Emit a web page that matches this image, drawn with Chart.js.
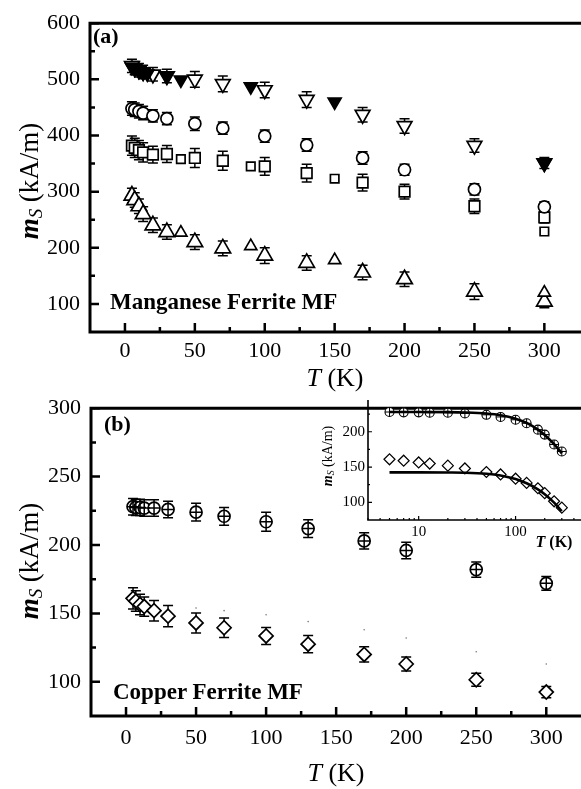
<!DOCTYPE html>
<html>
<head>
<meta charset="utf-8">
<script src="https://cdn.jsdelivr.net/npm/chart.js@4.4.1/dist/chart.umd.min.js"></script>
<style>
  html, body { margin: 0; padding: 0; background: #fff; overflow: hidden; }
  #page { position: relative; width: 581px; height: 789px; overflow: hidden; background: #fff;
          font-family: "Liberation Serif", "Times New Roman", serif; color: #000; }
  canvas { position: absolute; }
  .lbl { position: absolute; white-space: nowrap; line-height: 1; }
  .bold { font-weight: bold; }
  .ytitle { transform: translate(-50%, -50%) rotate(-90deg); }
  .xtitle { transform: translate(-50%, -50%); }
  sub { font-size: 0.7em; vertical-align: -0.25em; line-height: 0; font-style: italic; }
</style>
</head>
<body>
<div id="page">
  <canvas id="chartA" width="590" height="395" style="left:0;top:0"></canvas>
  <canvas id="chartB" width="590" height="404" style="left:0;top:385px"></canvas>
  <canvas id="chartInset" width="300" height="170" style="left:290px;top:385px"></canvas>

  <div class="lbl bold" style="left:93px;top:25px;font-size:22px">(a)</div>
  <div class="lbl bold" style="left:110px;top:290px;font-size:23px">Manganese Ferrite MF</div>
  <div class="lbl ytitle" style="left:29px;top:181px;font-size:27px"><b><i>m</i></b><sub>S</sub> (kA/m)</div>
  <div class="lbl xtitle" style="left:335px;top:378px;font-size:26px"><i>T</i> (K)</div>

  <div class="lbl bold" style="left:104px;top:413px;font-size:22px">(b)</div>
  <div class="lbl bold" style="left:113px;top:680px;font-size:23px">Copper Ferrite MF</div>
  <div class="lbl ytitle" style="left:29px;top:561px;font-size:27px"><b><i>m</i></b><sub>S</sub> (kA/m)</div>
  <div class="lbl xtitle" style="left:336px;top:773px;font-size:26px"><i>T</i> (K)</div>

  <div class="lbl ytitle" style="left:328px;top:456px;font-size:14px"><b><i>m</i></b><sub>S</sub> (kA/m)</div>
  <div class="lbl xtitle bold" style="left:554px;top:542px;font-size:16px"><i>T</i> (K)</div>
</div>
<script>
// ---- panel (a): manganese ferrite ----
const tempA = [5, 7, 10, 13, 20, 30, 50, 70, 100, 130, 170, 200, 250, 300];
const mnTriDownOpen = [524, 520, 516, 513, 509, 506, 500, 492, 481, 464, 437, 417, 382, 351];
const mnTriDownOpenErr = [12, 12, 12, 12, 12, 12, 14, 14, 14, 14, 13, 13, 12, 10];
const mnCircle = [448, 446, 443, 440, 435, 430, 421, 413, 399, 383, 360, 339, 304, 273];
const mnCircleErr = [12, 12, 12, 12, 11, 11, 12, 11, 11, 11, 11, 10, 10, 9];
const mnSquare = [382, 378, 374, 370, 366, 367, 360, 355, 345, 333, 316, 300, 274, 254];
const mnSquareErr = [17, 17, 17, 17, 15, 15, 17, 17, 16, 16, 15, 13, 13, 10];
const mnTriUp = [293, 285, 274, 260, 240, 228, 210, 199, 186, 173, 156, 144, 122, 104];
const mnTriUpErr = [13, 13, 13, 13, 13, 13, 13, 13, 14, 13, 13, 13, 14, 11];

// second set (no error bars)
const tempFilled = [5, 7, 10, 13, 16, 30, 40, 90, 150, 300];
const mnTriDownFilled = [522, 519, 515, 512, 510, 506, 499, 487, 460, 350];
const tempExtra = [40, 90, 150, 300];
const mnSquareSmall = [358, 345, 323, 229];
const mnTriUpSmall = [227, 203, 178, 120];

// ---- panel (b): copper ferrite ----
const tempB = [5, 7, 10, 13, 20, 30, 50, 70, 100, 130, 170, 200, 250, 300];
const cuCircle = [228, 227.5, 227.5, 227, 227, 226, 224, 221, 217, 212, 203, 196, 182, 172];
const cuCircleErr = [6, 6, 6, 6, 6, 6, 6.5, 6.5, 7, 6.5, 6, 6, 5.5, 5];
const cuDiamond = [161, 159, 156.5, 155, 152, 148, 143, 139.5, 133.5, 127.5, 120, 113, 101.5, 92.5];
const cuDiamondErr = [7.7, 7.5, 7.5, 7, 7.5, 7.7, 7.3, 7.1, 6.2, 6.3, 5.6, 5.1, 4.7, 4.1];
const tempDots = [50, 70, 100, 130, 170, 200, 250, 300];
const cuDots = [154, 152, 149, 144, 138, 132, 122, 113];

// ---- inset: fits on log T ----
const tempFit = [5, 10, 20, 30, 50, 70, 100, 130, 170, 200, 250, 300];
const fitCircle = [228, 228, 227.8, 227.3, 225.8, 223.5, 218.5, 212.5, 203, 195.5, 182.5, 169.5];
const fitDiamond = [142.5, 142.5, 142.3, 142, 140.5, 138, 133, 127, 118.5, 111.5, 99.5, 87.5];

// ---- axes ----
const xTicks = [0, 50, 100, 150, 200, 250, 300];
const xMinor = [25, 75, 125, 175, 225, 275];
const yTicksA = [100, 200, 300, 400, 500, 600];
const yMinorA = [150, 250, 350, 450, 550];
const yTicksB = [100, 150, 200, 250, 300];
const yMinorB = [125, 175, 225, 275];
const insetXTicks = [10, 100];
const insetXMinor = [3, 4, 5, 6, 7, 8, 9, 20, 30, 40, 50, 60, 70, 80, 90, 200, 300, 400];
const insetYTicks = [100, 150, 200];
const insetYMinor = [125, 175, 225];

Chart.defaults.font.family = '"Liberation Serif", "Times New Roman", serif';
Chart.defaults.color = '#000';
Chart.defaults.animation = false;
Chart.defaults.plugins.legend.display = false;
Chart.defaults.plugins.tooltip.enabled = false;

const pts = (xs, ys) => xs.map((x, i) => ({ x, y: ys[i] }));

function markers(xs, ys, style, radius, extra) {
  return Object.assign({
    data: pts(xs, ys),
    pointStyle: style,
    pointRadius: radius,
    pointBackgroundColor: '#fff',
    pointBorderColor: '#000',
    pointBorderWidth: 1.7,
    showLine: false,
  }, extra || {});
}

// vertical error bars with caps, drawn under the markers
const errorBars = {
  id: 'errorBars',
  beforeDatasetsDraw(chart) {
    const { ctx, scales: { x, y } } = chart;
    ctx.save();
    ctx.strokeStyle = '#000';
    ctx.lineWidth = 1.5;
    chart.data.datasets.forEach(ds => {
      if (!ds.errors) return;
      ds.data.forEach((p, j) => {
        const e = ds.errors[j];
        const px = x.getPixelForValue(p.x);
        const top = y.getPixelForValue(p.y + e);
        const bot = y.getPixelForValue(p.y - e);
        ctx.beginPath();
        ctx.moveTo(px, top); ctx.lineTo(px, bot);
        ctx.moveTo(px - 5, top); ctx.lineTo(px + 5, top);
        ctx.moveTo(px - 5, bot); ctx.lineTo(px + 5, bot);
        ctx.stroke();
      });
    });
    ctx.restore();
  }
};

// axis frame + inward ticks (Origin style)
const frame = {
  id: 'frame',
  afterDraw(chart, args, o) {
    const { ctx, chartArea: a, scales: { x, y } } = chart;
    ctx.save();
    ctx.strokeStyle = '#000';
    ctx.lineCap = 'butt';
    const tick = (vals, len, w, isX) => {
      ctx.lineWidth = w;
      ctx.beginPath();
      vals.forEach(v => {
        if (isX) {
          const px = x.getPixelForValue(v);
          ctx.moveTo(px, a.bottom); ctx.lineTo(px, a.bottom - len);
        } else {
          const py = y.getPixelForValue(v);
          ctx.moveTo(a.left, py); ctx.lineTo(a.left + len, py);
        }
      });
      ctx.stroke();
    };
    tick(o.xMajor, o.majorLen, o.tickWidth, true);
    tick(o.xMinor, o.minorLen, o.tickWidth, true);
    tick(o.yMajor, o.majorLen, o.tickWidth, false);
    tick(o.yMinor, o.minorLen, o.tickWidth, false);
    ctx.lineWidth = o.width;
    ctx.beginPath();
    ctx.moveTo(a.left, a.top); ctx.lineTo(a.left, a.bottom); ctx.lineTo(a.right + 10, a.bottom);
    if (o.top) { ctx.moveTo(a.left - o.width / 2, a.top); ctx.lineTo(a.right + 10, a.top); }
    ctx.stroke();
    ctx.restore();
  }
};

function axis(type, min, max, ticks, size, pad, fit) {
  return {
    type, min, max,
    grid: { display: false, drawTicks: false },
    border: { display: false },
    ticks: { color: '#000', font: { size }, padding: pad, autoSkip: false, maxRotation: 0,
             callback: v => String(v) },
    afterBuildTicks: s => { s.ticks = ticks.map(v => ({ value: v })); },
    afterFit: fit,
  };
}

new Chart(document.getElementById('chartA'), {
  type: 'scatter',
  data: {
    datasets: [
      markers(tempFilled, mnTriDownFilled, 'triangle', 7.5, { rotation: 180, pointBackgroundColor: '#000' }),
      markers(tempExtra, mnSquareSmall, 'rect', 6),
      markers(tempExtra, mnTriUpSmall, 'triangle', 7),
      markers(tempA, mnTriDownOpen, 'triangle', 8.5, { rotation: 180, errors: mnTriDownOpenErr }),
      markers(tempA, mnCircle, 'circle', 6, { errors: mnCircleErr }),
      markers(tempA, mnSquare, 'rect', 7.5, { errors: mnSquareErr }),
      markers(tempA, mnTriUp, 'triangle', 9, { errors: mnTriUpErr }),
    ]
  },
  options: {
    responsive: false,
    layout: { padding: { top: 16, right: 7, left: 0, bottom: 0 } },
    scales: {
      x: axis('linear', -25, 325, xTicks, 22, 6, s => { s.height = 63; }),
      y: axis('linear', 50, 600, yTicksA, 22, 10, s => { s.width = 90; }),
    },
    plugins: {
      frame: { width: 3, top: true, xMajor: xTicks, xMinor, yMajor: yTicksA, yMinor: yMinorA,
               majorLen: 9, minorLen: 5, tickWidth: 2.5 }
    }
  },
  plugins: [errorBars, frame]
});

new Chart(document.getElementById('chartB'), {
  type: 'scatter',
  data: {
    datasets: [
      markers(tempB, cuCircle, 'cross', 6, { pointBackgroundColor: 'rgba(0,0,0,0)', pointBorderWidth: 1.5 }),
      markers(tempB, cuCircle, 'circle', 6, { errors: cuCircleErr }),
      markers(tempB, cuDiamond, 'rectRot', 7, { errors: cuDiamondErr }),
      markers(tempDots, cuDots, 'circle', 0.8, { pointBackgroundColor: '#777', pointBorderColor: '#777', pointBorderWidth: 0 }),
    ]
  },
  options: {
    responsive: false,
    layout: { padding: { top: 15, right: 6, left: 0, bottom: 0 } },
    scales: {
      x: axis('linear', -25, 325, xTicks, 22, 9, s => { s.height = 73; }),
      y: axis('linear', 75, 300, yTicksB, 22, 10, s => { s.width = 91; }),
    },
    plugins: {
      frame: { width: 3, top: true, xMajor: xTicks, xMinor, yMajor: yTicksB, yMinor: yMinorB,
               majorLen: 9, minorLen: 5, tickWidth: 2.5 }
    }
  },
  plugins: [errorBars, frame]
});

const fitLine = (ys) => ({
  data: pts(tempFit, ys),
  showLine: true,
  borderColor: '#000',
  borderWidth: 2.6,
  pointRadius: 0,
  cubicInterpolationMode: 'monotone',
});

new Chart(document.getElementById('chartInset'), {
  type: 'scatter',
  data: {
    datasets: [
      fitLine(fitCircle),
      fitLine(fitDiamond),
      markers(tempB, cuCircle, 'cross', 4.5, { pointBackgroundColor: 'rgba(0,0,0,0)', pointBorderWidth: 1 }),
      markers(tempB, cuCircle, 'circle', 4.5, { pointBorderWidth: 1.1 }),
      markers(tempB, cuDiamond, 'rectRot', 5.5, { pointBorderWidth: 1.2 }),
    ]
  },
  options: {
    responsive: false,
    layout: { padding: { top: 15, right: 5, left: 0, bottom: 0 } },
    scales: {
      x: axis('logarithmic', 3, 500, insetXTicks, 15, 3, s => { s.height = 35; }),
      y: axis('linear', 75, 245, insetYTicks, 15, 3, s => { s.width = 78; }),
    },
    plugins: {
      frame: { width: 1.6, top: false, xMajor: insetXTicks, xMinor: insetXMinor,
               yMajor: insetYTicks, yMinor: insetYMinor, majorLen: 4, minorLen: 2, tickWidth: 1.2 }
    }
  },
  plugins: [frame]
});
</script>
</body>
</html>
